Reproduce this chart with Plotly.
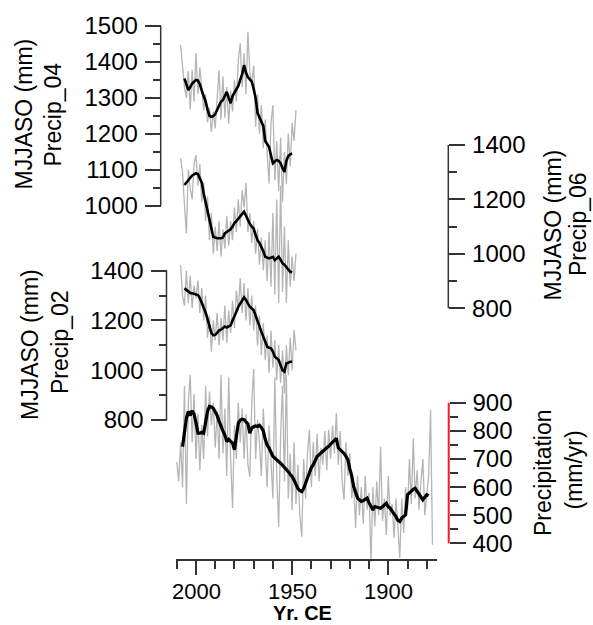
import plotly.graph_objects as go

W, H = 593, 625

# ---------------- data ----------------
# annual MJJASO reconstructions (mm), 2008 -> 1948
years_recon = list(range(2008, 1947, -1))
precip04_raw = [
    1447, 1390, 1330, 1300, 1375, 1268, 1378, 1290, 1425, 1310,
    1385, 1330, 1265, 1310, 1232, 1272, 1205, 1262, 1215, 1300,
    1377, 1240, 1360, 1245, 1330, 1228, 1320, 1262, 1350, 1290,
    1405, 1452, 1330, 1425, 1310, 1484, 1370, 1340, 1390, 1220,
    1310, 1200, 1280, 1160, 1240, 1150, 1062, 1230, 1280, 1070,
    1180, 1040, 1190, 1010, 1150, 1060, 1200, 1110, 1230, 1180,
    1266,
]
precip06_raw = [
    1352, 1300, 1180, 1076, 1310, 1240, 1200, 1330, 1363, 1250,
    1330, 1190, 1260, 1120, 1210, 1050, 1150, 1000, 1100, 1010,
    1120, 990, 1090, 1020, 1140, 1030, 1120, 1050, 1170, 1080,
    1200, 1100, 1234, 1170, 1260, 1080, 1150, 1040, 1120, 1000,
    1090, 960, 1060, 940, 1050, 900, 1080, 880, 1150, 850,
    1200, 820, 1250, 860, 1100, 820, 1050, 880, 990, 900,
    1000,
]
precip02_raw = [
    1423, 1300, 1260, 1400, 1270, 1380, 1250, 1340, 1290, 1360,
    1230, 1330, 1200, 1300, 1130, 1220, 1074, 1200, 1120, 1230,
    1100, 1210, 1120, 1260, 1110, 1240, 1150, 1280, 1170, 1320,
    1240, 1371, 1230, 1350, 1200, 1330, 1180, 1300, 1160, 1260,
    1100, 1220, 1060, 1190, 1040, 1140, 990, 1160, 1010, 1120,
    960, 1100, 950, 1080, 908, 1100, 980, 1130, 1000, 1162,
    1080,
]

# smoothed reconstructions, 2006 -> 1950
years_recon_smooth = list(range(2006, 1949, -1))
precip04_smooth = [
    1354, 1340, 1322, 1330, 1340, 1345, 1350, 1348, 1338, 1320,
    1305, 1290, 1268, 1250, 1247, 1249, 1255, 1268, 1282, 1290,
    1294, 1305, 1317, 1300, 1285, 1305, 1315, 1322, 1333, 1350,
    1366, 1391, 1370, 1358, 1352, 1345, 1325, 1300, 1258, 1245,
    1232, 1222, 1180, 1170, 1163, 1140, 1118, 1123, 1127, 1125,
    1118, 1105, 1094, 1125, 1138, 1143, 1145,
]
precip06_smooth = [
    1253, 1262, 1271, 1280, 1288, 1292, 1296, 1293, 1280, 1262,
    1222, 1190, 1161, 1120, 1099, 1062, 1060, 1057, 1057, 1057,
    1060, 1075, 1080, 1085, 1090, 1100, 1113, 1120, 1128, 1136,
    1146, 1155, 1140, 1124, 1110, 1100, 1093, 1070, 1050, 1040,
    1026, 1010, 989, 986, 983, 986, 989, 977, 982, 989,
    978, 965, 960, 952, 945, 934, 932,
]
precip02_smooth = [
    1329, 1322, 1315, 1310, 1309, 1306, 1304, 1302, 1290, 1272,
    1255, 1232, 1205, 1180, 1150, 1140, 1142, 1150, 1160, 1163,
    1170, 1176, 1172, 1175, 1180, 1200, 1215, 1235, 1255, 1269,
    1283, 1293, 1282, 1269, 1255, 1248, 1242, 1220, 1195, 1180,
    1155, 1135, 1115, 1095, 1090, 1088, 1075, 1054, 1048, 1041,
    1020, 1000, 994, 1028, 1030, 1034, 1034,
]

# instrumental precipitation (mm/yr), 2010 -> 1877
years_obs = list(range(2010, 1876, -1))
precip_obs = [
    690, 620, 760, 600, 960, 540, 900, 1000, 760, 930,
    700, 860, 660, 820, 700, 960, 780, 940, 820, 900,
    740, 870, 700, 1000, 720, 880, 640, 990, 700, 526,
    820, 700, 900, 760, 880, 700, 860, 680, 637, 900,
    1020, 700, 840, 760, 640, 880, 740, 600, 820, 690,
    560, 990, 640, 459, 780, 960, 620, 1000, 560, 720,
    520, 760, 540, 680, 500, 424, 700, 560, 720, 804,
    600, 760, 640, 790, 620, 740, 680, 800, 660, 804,
    700, 820, 720, 864, 680, 800, 620, 555, 760, 640,
    720, 560, 620, 455, 640, 500, 600, 470, 640, 520,
    580, 335, 600, 460, 620, 500, 744, 480, 560, 430,
    640, 500, 540, 420, 560, 460, 348, 560, 437, 600,
    520, 700, 540, 774, 560, 660, 520, 620, 700, 500,
    560, 640, 875, 395,
]
# smoothed instrumental series, 2007 -> 1879
years_obs_smooth = list(range(2007, 1878, -1))
precip_obs_smooth = [
    744, 790, 845, 869, 855, 872, 860, 829, 792, 792,
    795, 792, 830, 870, 887, 885, 880, 868, 855, 835,
    815, 800, 785, 762, 770, 762, 757, 733, 792, 828,
    838, 842, 840, 830, 825, 792, 810, 815, 818, 816,
    820, 812, 800, 770, 750, 739, 725, 710, 703, 695,
    691, 685, 678, 670, 662, 655, 645, 638, 625, 610,
    595, 588, 584, 595, 615, 635, 650, 670, 680, 695,
    709, 715, 722, 727, 733, 740, 745, 752, 762, 770,
    774, 740, 733, 730, 720, 710, 697, 665, 640, 602,
    578, 561, 555, 549, 552, 557, 561, 545, 530, 519,
    531, 530, 527, 525, 532, 538, 543, 530, 525, 515,
    507, 495, 482, 478, 490, 495, 501, 573, 580, 584,
    592, 596, 584, 575, 565, 555, 565, 573, 570,
]

# year axis labels
year_ticks = [2000, 1950, 1900]
year_minor = [2010, 1990, 1980, 1970, 1960, 1940, 1930, 1920, 1910, 1890, 1880]

# ---------------- layout helpers ----------------
FONT = "Arial, 'Liberation Sans', sans-serif"
AX = "#333333"
RED = "rgb(238,30,36)"
GREY = "#b5b5b5"


def full_range(v1, p1, v2, p2):
    """Value range spanning the full page height, given two values and their pixel rows."""
    k = (v1 - v2) / (p2 - p1)
    return [v1 - (H - p1) * k, v1 + p1 * k]


def yfrac(p):
    return 1 - p / H


def xfrac(p):
    return p / W


fig = go.Figure()

series = [
    ("y", precip04_raw, precip04_smooth, years_recon, years_recon_smooth, 2.6),
    ("y2", precip06_raw, precip06_smooth, years_recon, years_recon_smooth, 2.6),
    ("y3", precip02_raw, precip02_smooth, years_recon, years_recon_smooth, 2.6),
    ("y4", precip_obs, precip_obs_smooth, years_obs, years_obs_smooth, 3.2),
]
for yref, raw, smooth, yr_raw, yr_smooth, lw in series:
    fig.add_trace(go.Scatter(x=yr_raw, y=raw, yaxis=yref, mode="lines",
                             line=dict(color=GREY, width=1.3), hoverinfo="skip"))
    fig.add_trace(go.Scatter(x=yr_smooth, y=smooth, yaxis=yref, mode="lines",
                             line=dict(color="black", width=lw), hoverinfo="skip"))


def yaxis_cfg(rng, pos, side, major, minor, overlay=True):
    cfg = dict(
        domain=[0, 1], range=rng, anchor="free", position=pos, side=side,
        showline=False, showgrid=False, zeroline=False,
        ticks="outside", ticklen=16, tickwidth=1.5, tickcolor=AX,
        tickmode="array", tickvals=major, ticklabelstandoff=2,
        tickfont=dict(family=FONT, size=24, color="black"),
        minor=dict(tickmode="array", tickvals=minor, ticks="outside",
                   ticklen=8, tickwidth=1.5, tickcolor=AX, showgrid=False),
        fixedrange=True,
    )
    if overlay:
        cfg["overlaying"] = "y"
    return cfg


ax04 = dict(range=full_range(1500, 26.0, 1000, 205.7), pos=160.7, lo=1000, hi=1500)
ax06 = dict(range=full_range(1400, 145.0, 800, 308.2), pos=448.3, lo=800, hi=1400)
ax02 = dict(range=full_range(1400, 270.7, 800, 420.0), pos=166.5, lo=800, hi=1400)
axob = dict(range=full_range(900, 402.8, 400, 543.4), pos=448.7, lo=400, hi=900)

fig.update_layout(
    width=W, height=H, autosize=False,
    margin=dict(l=0, r=0, t=0, b=0),
    paper_bgcolor="white", plot_bgcolor="rgba(0,0,0,0)",
    showlegend=False,
    xaxis=dict(
        domain=[xfrac(176.0), xfrac(437.3)], range=[2010.4, 1874.5],
        anchor="free", position=yfrac(560.0),
        showline=True, linecolor=AX, linewidth=1.5,
        showgrid=False, zeroline=False,
        ticks="outside", ticklen=14, tickwidth=1.5, tickcolor=AX,
        tickmode="array", tickvals=year_ticks, showticklabels=False,
        minor=dict(tickmode="array", tickvals=year_minor,
                   ticks="outside", ticklen=8, tickwidth=1.5, tickcolor=AX, showgrid=False),
        fixedrange=True,
    ),
    yaxis=yaxis_cfg(ax04["range"], xfrac(ax04["pos"]), "left",
                    [1000, 1100, 1200, 1300, 1400, 1500],
                    [1050, 1150, 1250, 1350, 1450], overlay=False),
    yaxis2=yaxis_cfg(ax06["range"], xfrac(ax06["pos"]), "right",
                     [800, 1000, 1200, 1400], [900, 1100, 1300]),
    yaxis3=yaxis_cfg(ax02["range"], xfrac(ax02["pos"]), "left",
                     [800, 1000, 1200, 1400], [900, 1100, 1300]),
    yaxis4=yaxis_cfg(axob["range"], xfrac(axob["pos"]), "right",
                     [400, 500, 600, 700, 800, 900], [450, 550, 650, 750, 850]),
)

# year labels placed on the x scale under their ticks
for yr in year_ticks:
    fig.add_annotation(text=str(yr), xref="x", yref="paper", x=yr, y=yfrac(591.5),
                       xanchor="center", yanchor="middle", showarrow=False,
                       font=dict(family=FONT, size=22, color="black"))

# axis spines drawn only over each labelled span
for yref, ax, col, w in [("y", ax04, AX, 1.5), ("y2", ax06, AX, 1.5),
                         ("y3", ax02, AX, 1.5), ("y4", axob, RED, 2)]:
    fig.add_shape(type="line", xref="paper", yref=yref,
                  x0=xfrac(ax["pos"]), x1=xfrac(ax["pos"]), y0=ax["lo"], y1=ax["hi"],
                  line=dict(color=col, width=w))

# axis titles, one rotated line each
title_lines = [
    ("MJJASO (mm)", 23.0, 114.5),
    ("Precip_04", 52.0, 114.5),
    ("MJJASO (mm)", 29.5, 344.5),
    ("Precip_02", 59.5, 342.5),
    ("MJJASO (mm)", 552.5, 225.0),
    ("Precip_06", 578.5, 224.5),
    ("Precipitation", 543.0, 473.0),
    ("(mm/yr)", 573.5, 470.0),
]
for txt, px, py in title_lines:
    fig.add_annotation(text=txt, xref="paper", yref="paper", x=xfrac(px), y=yfrac(py),
                       xanchor="center", yanchor="middle", textangle=-90, showarrow=False,
                       font=dict(family=FONT, size=23, color="black"))

fig.add_annotation(text="<b>Yr. CE</b>", xref="paper", yref="paper",
                   x=xfrac(302.5), y=yfrac(613.0), xanchor="center", yanchor="middle",
                   showarrow=False, font=dict(family=FONT, size=20, color="black"))

fig.write_html("out.html")
